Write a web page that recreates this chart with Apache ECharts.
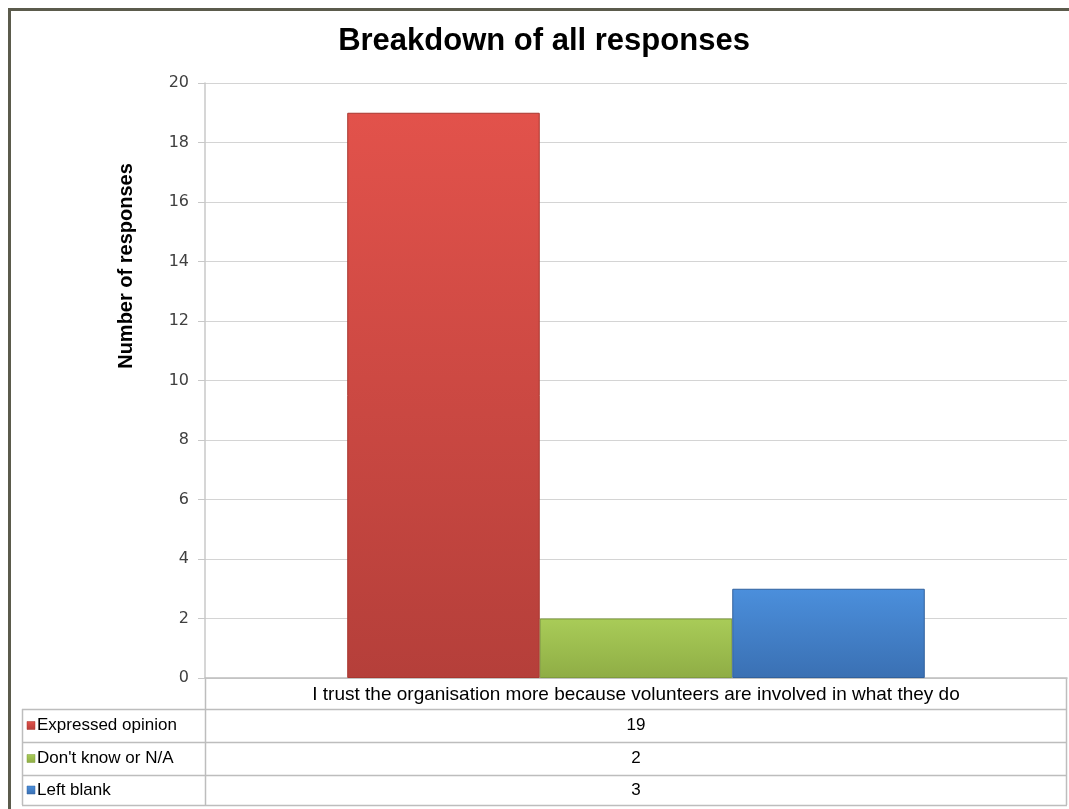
<!DOCTYPE html>
<html>
<head>
<meta charset="utf-8">
<script src="https://cdn.jsdelivr.net/npm/echarts@6/dist/echarts.min.js"></script>
<style>
html,body{margin:0;padding:0;background:#fff;}
#c{width:1069px;height:809px;}
</style>
</head>
<body>
<div id="c"></div>
<script>
// ---- data ----
const categories = ['I trust the organisation more because volunteers are involved in what they do'];
const seriesNames = ['Expressed opinion', "Don't know or N/A", 'Left blank'];
const expressedOpinion = [19];
const dontKnow = [2];
const leftBlank = [3];
const yMin = 0, yMax = 20, yInterval = 2;
const titleText = 'Breakdown of all responses';
const yAxisTitle = 'Number of responses';

// ---- style ----
const FONT = '"Liberation Sans", sans-serif';
const grad = (top, bottom) => new echarts.graphic.LinearGradient(0, 0, 0, 1, [
  {offset: 0, color: top}, {offset: 1, color: bottom}
]);
const palette = [
  {top: '#e2524b', bottom: '#b53f3a', border: '#a8372f'},
  {top: '#a9cc58', bottom: '#8fad45', border: '#7f9c3c'},
  {top: '#4b8fdc', bottom: '#3a70b3', border: '#31619d'}
];
const seriesValues = [expressedOpinion, dontKnow, leftBlank];

const G = {left: 205, top: 83, right: 1067, bottom: 678};
const rowLines = [709, 742, 775, 805];
const tableLeft = 22;

const chart = echarts.init(document.getElementById('c'), null, {renderer: 'canvas'});

const series = seriesNames.map((name, i) => ({
  name: name,
  type: 'bar',
  data: seriesValues[i],
  barGap: '0%',
  barCategoryGap: '33%',
  itemStyle: {
    color: grad(palette[i].top, palette[i].bottom),
    borderColor: palette[i].border,
    borderWidth: 1
  },
  emphasis: {disabled: true}
}));

const graphics = [];
// outer frame
graphics.push({
  type: 'rect', shape: {x: 9.5, y: 9.5, width: 1100, height: 900},
  style: {fill: null, stroke: '#5b5b4c', lineWidth: 3}, silent: true, z: 100
});
// y-axis title
graphics.push({
  type: 'text', x: 126, y: 266, rotation: Math.PI / 2,
  style: {text: yAxisTitle, font: 'bold 20px ' + FONT, fill: '#000', align: 'center', verticalAlign: 'middle'},
  silent: true
});
// table lines
rowLines.forEach(y => {
  graphics.push({type: 'line', shape: {x1: tableLeft, y1: y + 0.5, x2: G.right, y2: y + 0.5},
    style: {stroke: '#bdbdbd', lineWidth: 1.5}, silent: true});
});
graphics.push({type: 'line', shape: {x1: tableLeft + 0.5, y1: rowLines[0], x2: tableLeft + 0.5, y2: rowLines[3]},
  style: {stroke: '#bdbdbd', lineWidth: 1.5}, silent: true});
graphics.push({type: 'line', shape: {x1: G.left + 0.5, y1: G.bottom, x2: G.left + 0.5, y2: rowLines[3]},
  style: {stroke: '#bdbdbd', lineWidth: 1.5}, silent: true});
graphics.push({type: 'line', shape: {x1: G.right - 0.5, y1: G.bottom, x2: G.right - 0.5, y2: rowLines[3]},
  style: {stroke: '#bdbdbd', lineWidth: 1.5}, silent: true});
// table rows
seriesNames.forEach((name, i) => {
  const yc = (rowLines[i] + rowLines[i + 1]) / 2;
  graphics.push({
    type: 'rect', shape: {x: 27, y: yc - 4, width: 8, height: 8},
    style: {fill: grad(palette[i].top, palette[i].bottom), stroke: palette[i].border, lineWidth: 0.5}, silent: true
  });
  graphics.push({
    type: 'text', x: 37, y: yc,
    style: {text: name, font: '17px ' + FONT, fill: '#000', align: 'left', verticalAlign: 'middle'}, silent: true
  });
  graphics.push({
    type: 'text', x: (G.left + G.right) / 2, y: yc,
    style: {text: String(seriesValues[i][0]), font: '17px ' + FONT, fill: '#000', align: 'center', verticalAlign: 'middle'}, silent: true
  });
});

chart.setOption({
  animation: false,
  backgroundColor: '#ffffff',
  title: {
    text: titleText, left: 539, top: 21, textAlign: 'center',
    textStyle: {fontFamily: FONT, fontWeight: 'bold', fontSize: 31, color: '#000'}
  },
  grid: {left: G.left, top: G.top, right: 1069 - G.right, bottom: 809 - G.bottom, containLabel: false},
  xAxis: {
    type: 'category', data: categories,
    axisLine: {show: true, lineStyle: {color: '#bdbdbd', width: 1.5}},
    axisTick: {show: false},
    axisLabel: {fontFamily: FONT, fontSize: 19, color: '#000', margin: 7}
  },
  yAxis: {
    type: 'value', min: yMin, max: yMax, interval: yInterval,
    axisLine: {show: true, lineStyle: {color: '#c8c8c8', width: 1.5}},
    axisTick: {show: true, length: 7, lineStyle: {color: '#c8c8c8'}},
    splitLine: {show: true, lineStyle: {color: '#d4d4d4', width: 1}},
    axisLabel: {fontFamily: '"DejaVu Sans", sans-serif', fontSize: 16, color: '#404040', margin: 16}
  },
  series: series,
  graphic: graphics
});
</script>
</body>
</html>
